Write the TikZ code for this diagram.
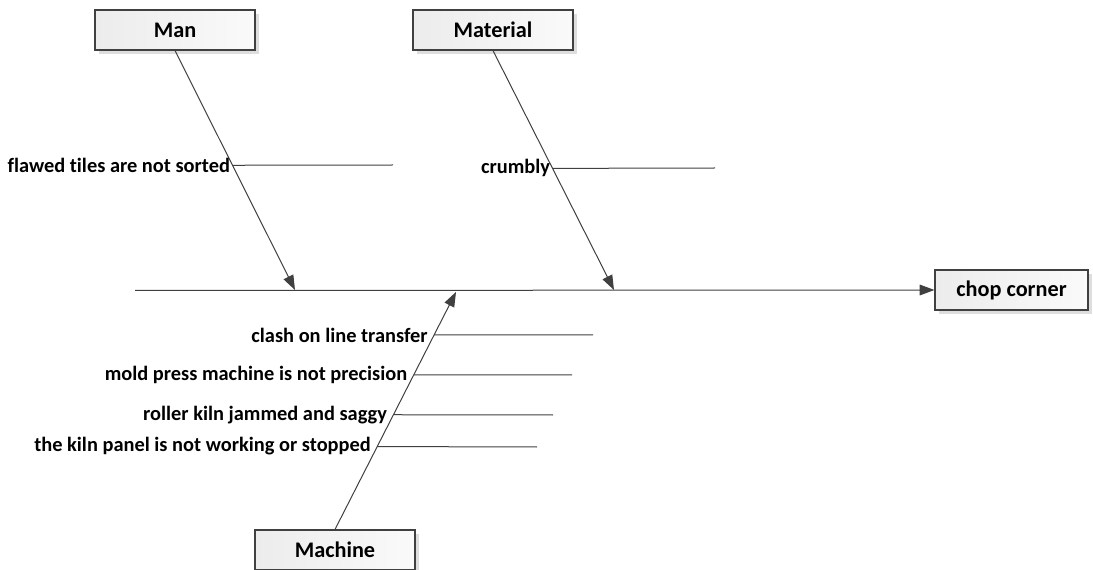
\documentclass[tikz,border=0pt]{standalone}
\usepackage{fontspec}
\setmainfont{Carlito}[Ligatures=NoCommon]
\usetikzlibrary{arrows.meta,shadows,calc}

\tikzset{every picture/.style={line width=0.75pt}}
\tikzset{
  catbox/.style={draw={rgb,255:red,64;green,64;blue,64}, line width=0.9pt,
    left color={rgb,255:red,236;green,236;blue,236}, right color={rgb,255:red,250;green,250;blue,250},
    drop shadow={shadow xshift=3pt, shadow yshift=-3pt, fill={rgb,255:red,200;green,200;blue,200}, opacity=0.6},
    minimum width=120pt, minimum height=30pt, inner sep=0.75pt,
    font=\fontsize{16.7}{19}\selectfont\bfseries},
  causetxt/.style={anchor=east, inner sep=1.5pt, font=\fontsize{15.3}{18}\selectfont\bfseries},
  bone/.style={draw={rgb,255:red,64;green,64;blue,64}},
  bonearrow/.style={bone, -{Triangle[length=11pt,width=8pt]}}
}

\begin{document}
\begin{tikzpicture}[x=0.75pt,y=0.75pt,yscale=-1,xscale=1]
\useasboundingbox (0,0) rectangle (1093,570);

% Boxes
\node [catbox] (man) at (175,30) {Man};
\node [catbox] (material) at (493,30) {Material};
\node [catbox] (machine) at (335,550) {Machine};
\node [catbox, minimum width=114.75pt] (effect) at (1011.5,290) {chop corner};

% Spine and bone ends
\coordinate (tail) at (135,290.5);
\coordinate (manend) at (295,290);
\coordinate (matend) at (614,290);
\coordinate (macend) at (456,292);

%Straight Lines
\draw [bonearrow] (tail) -- (effect.west);
\draw [bonearrow] (man.south) -- (manend);
\draw [bonearrow] (material.south) -- (matend);
\draw [bonearrow] (machine.north) -- (macend);

% Sub causes on the bones
\path (man.south) -- (manend) coordinate [pos=0.479] (man1);
\path (material.south) -- (matend) coordinate [pos=0.492] (mat1);
\path (machine.north) -- (macend) coordinate [pos=0.819] (mac1)
  coordinate [pos=0.651] (mac2) coordinate [pos=0.483] (mac3) coordinate [pos=0.349] (mac4);

\coordinate (man1e) at (393,165);
\coordinate (mat1e) at (715,168);
\coordinate (mac1e) at (593,335);
\coordinate (mac2e) at (572,375);
\coordinate (mac3e) at (553,415);
\coordinate (mac4e) at (537,447);

\draw [bone] (man1) -- (man1e);
\draw [bone] (mat1) -- (mat1e);
\draw [bone] (mac1) -- (mac1e);
\draw [bone] (mac2) -- (mac2e);
\draw [bone] (mac3) -- (mac3e);
\draw [bone] (mac4) -- (mac4e);

% Text Node
\node [causetxt] (t1) at (man1) {flawed tiles are not sorted};
\node [causetxt] (t2) at (mat1) {crumbly};
\node [causetxt] (t3) at ($(mac1)+(-4,0)$) {clash on line transfer};
\node [causetxt] (t4) at ($(mac2)+(-4,0)$) {mold press machine is not precision};
\node [causetxt] (t5) at ($(mac3)+(-4,0)$) {roller kiln jammed and saggy};
\node [causetxt] (t6) at ($(mac4)+(-4,0)$) {the kiln panel is not working or stopped};

\end{tikzpicture}
\end{document}
